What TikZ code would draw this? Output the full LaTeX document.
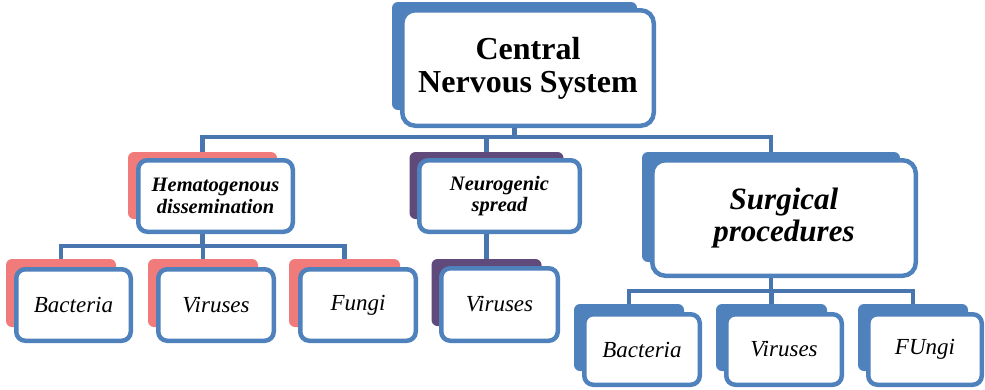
\documentclass[tikz,border=0pt]{standalone}
\usepackage{fontspec}
\setmainfont{LiberationSerif}[Extension=.ttf, UprightFont=*-Regular, BoldFont=*-Bold, ItalicFont=*-Italic, BoldItalicFont=*-BoldItalic]
\definecolor{bl}{HTML}{4F81BD}
\definecolor{cl}{HTML}{4A76B0}
\definecolor{pk}{HTML}{F17B7B}
\definecolor{pu}{HTML}{5F4A7B}
\begin{document}
\begin{tikzpicture}[x=1pt,y=-1pt,
  dims/.style n args={2}{minimum width=#1pt,minimum height=#2pt},
  backbox/.style={rounded corners=6pt, inner sep=0pt, outer sep=0pt, draw=none, fill=#1},
  frontbox/.style={draw=bl, line width=4.5pt, fill=white, rounded corners=9pt, align=center, inner sep=0pt, outer sep=0pt, text=black},
  bigfront/.style={frontbox, rounded corners=13pt},
  conn/.style={draw=cl, line width=4.5pt},
  toptext/.style={font=\fontsize{32}{33}\selectfont\bfseries},
  midtext/.style={font=\fontsize{20.5}{21.5}\selectfont\bfseries\itshape},
  surtext/.style={font=\fontsize{31}{32}\selectfont\bfseries\itshape},
  leaftext/.style={font=\fontsize{23}{25}\selectfont\itshape}]
\useasboundingbox (0,0) rectangle (985,389);
\coordinate (bus1) at (0,137);
\coordinate (bus2) at (0,246);
\coordinate (bus3) at (0,291);
% back shapes (layout)
\node[backbox=bl, dims={245}{108}] (cnsB) at (514.5,56) {};
\node[backbox=pk, dims={149}{67}] (hemB) at (202.5,185.5) {};
\node[backbox=pu, dims={154}{67}] (neuB) at (486.5,185.5) {};
\node[backbox=bl, dims={258}{110}] (surB) at (771,207) {};
\node[backbox=pk, dims={110}{68}] (lbB) at (61,293) {};
\node[backbox=pk, dims={110}{68}] (lvB) at (203,293) {};
\node[backbox=pk, dims={111}{68}] (lfB) at (344.5,293) {};
\node[backbox=pu, dims={110}{67}] (nvB) at (486.5,292.5) {};
\node[backbox=bl, dims={110}{67}] (sbB) at (629,337.5) {};
\node[backbox=bl, dims={111}{67}] (svB) at (771.5,337.5) {};
\node[backbox=bl, dims={110}{67}] (sfB) at (913,337.5) {};
% connectors
\draw[conn] (cnsB.south) -- (cnsB.south |- bus1);
\draw[conn] (hemB.north) -- (hemB.north |- bus1) -- (surB.north |- bus1) -- (surB.north);
\draw[conn] (neuB.north) -- (neuB.north |- bus1);
\draw[conn] (hemB.south) -- (hemB.south |- bus2);
\draw[conn] (lbB.north) -- (lbB.north |- bus2) -- (lfB.north |- bus2) -- (lfB.north);
\draw[conn] (lvB.north) -- (lvB.north |- bus2);
\draw[conn] (neuB.south) -- (nvB.north);
\draw[conn] (surB.south) -- (surB.south |- bus3);
\draw[conn] (sbB.north) -- (sbB.north |- bus3) -- (sfB.north |- bus3) -- (sfB.north);
\draw[conn] (svB.north) -- (svB.north |- bus3);
% front shapes with text
\node[bigfront, toptext, dims={251.5}{115.5}] (cns) at (528,68) {Central\\Nervous System};
\node[frontbox, midtext, dims={154.5}{71.5}] (hem) at (215.5,196) {Hematogenous\\dissemination};
\node[frontbox, midtext, dims={160.5}{71.5}] (neu) at (499.5,196) {Neurogenic\\spread};
\node[bigfront, surtext, dims={263.5}{115.5}] (sur) at (784,218) {Surgical\\procedures};
\node[frontbox, leaftext, dims={114.5}{71.5}] (lb) at (73.5,305) {Bacteria};
\node[frontbox, leaftext, dims={115.5}{71.5}] (lv) at (216,305) {Viruses};
\node[frontbox, leaftext, dims={115.5}{71.5}] (lf) at (358,305) {Fungi};
\node[frontbox, leaftext, dims={116.5}{72.5}] (nv) at (499.5,304.5) {Viruses};
\node[frontbox, leaftext, dims={115.5}{70.5}] (sb) at (642,349.5) {Bacteria};
\node[frontbox, leaftext, dims={115.5}{70.5}] (sv) at (784,349.5) {Viruses};
\node[frontbox, leaftext, dims={113.5}{70.5}] (sf) at (925,349.5) {FUngi};
\end{tikzpicture}
\end{document}
